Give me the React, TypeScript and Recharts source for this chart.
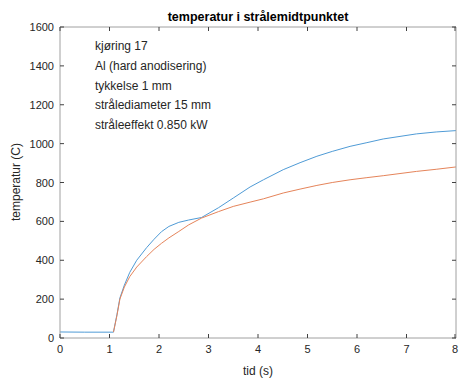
import React from "react";
import { LineChart, Line, XAxis, YAxis, ReferenceLine } from "recharts";

const timeS = [0, 0.5, 1.08, 1.15, 1.21, 1.3, 1.41, 1.55, 1.75, 1.9, 2.05, 2.2, 2.4, 2.6, 2.86, 3.2, 3.5, 3.84, 4.11, 4.51, 4.85, 5.19, 5.5, 5.86, 6.2, 6.53, 7.2, 7.6, 8];
const blueTemp = [31, 30, 30, 120, 206, 272, 338, 400, 465, 508, 547, 574, 595, 607, 620, 670, 720, 777, 814, 866, 902, 935, 960, 986, 1005, 1024, 1050, 1060, 1067];
const orangeTemp: (number | null)[] = [null, null, 30, 115, 200, 262, 316, 365, 419, 456, 487, 515, 548, 582, 617, 650, 677, 699, 716, 746, 766, 785, 800, 814, 825, 835, 857, 868, 880];

const xTicks = [0, 1, 2, 3, 4, 5, 6, 7, 8];
const yTicks = [0, 200, 400, 600, 800, 1000, 1200, 1400, 1600];
const notes = ["kjøring 17", "Al (hard anodisering)", "tykkelse 1 mm", "strålediameter 15 mm", "stråleeffekt 0.850 kW"];
const title = "temperatur i strålemidtpunktet";
const xLabel = "tid (s)";
const yLabel = "temperatur (C)";

const data = timeS.map((t, i) => ({ t, blue: blueTemp[i], orange: orangeTemp[i] }));

const W = 459, H = 379;
const M = { top: 27, right: 3, left: 0, bottom: 0 };
const Y_AXIS_W = 60, X_AXIS_H = 41;
const PLOT_TOP = M.top;
const PLOT_BOTTOM = H - M.bottom - X_AXIS_H;
const PLOT_LEFT = M.left + Y_AXIS_W;
const PLOT_RIGHT = W - M.right;
const TICK_LEN = 4;

const FONT = "'Liberation Sans', Arial, sans-serif";
const AX = "#a0a0a0";
const TICK = "#404040";
const TXT = "#262626";

const XTick = (props: any) => {
  const { x, payload } = props;
  return (
    <g>
      <line x1={x} x2={x} y1={PLOT_BOTTOM} y2={PLOT_BOTTOM - TICK_LEN} stroke={TICK} strokeWidth={1} />
      <line x1={x} x2={x} y1={PLOT_TOP} y2={PLOT_TOP + TICK_LEN} stroke={TICK} strokeWidth={1} />
      <text x={x} y={PLOT_BOTTOM + 15} textAnchor="middle" fontFamily={FONT} fontSize={11} fill={TXT}>
        {payload.value}
      </text>
    </g>
  );
};

const YTick = (props: any) => {
  const { y, payload } = props;
  return (
    <g>
      <line x1={PLOT_LEFT} x2={PLOT_LEFT + TICK_LEN} y1={y} y2={y} stroke={TICK} strokeWidth={1} />
      <line x1={PLOT_RIGHT} x2={PLOT_RIGHT - TICK_LEN} y1={y} y2={y} stroke={TICK} strokeWidth={1} />
      <text x={PLOT_LEFT - 6} y={y + 4} textAnchor="end" fontFamily={FONT} fontSize={11} fill={TXT}>
        {payload.value}
      </text>
    </g>
  );
};

export default function App() {
  return (
    <div style={{ position: "absolute", left: 0, top: 0, width: W, height: H, background: "#fff", fontFamily: FONT }}>
      <LineChart width={W} height={H} data={data} margin={M}>
        <XAxis
          dataKey="t"
          type="number"
          domain={[0, 8]}
          ticks={xTicks}
          height={X_AXIS_H}
          tickSize={0}
          tickMargin={0}
          axisLine={false}
          tickLine={false}
          tick={<XTick />}
          allowDataOverflow
        />
        <YAxis
          type="number"
          domain={[0, 1600]}
          ticks={yTicks}
          width={Y_AXIS_W}
          tickSize={0}
          tickMargin={0}
          axisLine={false}
          tickLine={false}
          tick={<YTick />}
          allowDataOverflow
        />
        <Line type="linear" dataKey="blue" stroke="#4f9bd6" strokeWidth={1} dot={false} isAnimationActive={false} connectNulls={false} />
        <Line type="linear" dataKey="orange" stroke="#e5845a" strokeWidth={1} dot={false} isAnimationActive={false} connectNulls={false} />
        <ReferenceLine x={0} stroke={AX} ifOverflow="visible" />
        <ReferenceLine x={8} stroke={AX} ifOverflow="visible" />
        <ReferenceLine y={0} stroke={AX} ifOverflow="visible" />
        <ReferenceLine y={1600} stroke={AX} ifOverflow="visible" />
      </LineChart>
      <svg width={W} height={H} style={{ position: "absolute", left: 0, top: 0, pointerEvents: "none" }}>
        <text x={258} y={21} textAnchor="middle" fontFamily={FONT} fontSize={12.5} fontWeight="bold" fill="#000">{title}</text>
        {notes.map((n, i) => (
          <text key={n} x={95} y={50 + i * 19.8} fontFamily={FONT} fontSize={12} fill={TXT}>{n}</text>
        ))}
        <text x={258} y={375} textAnchor="middle" fontFamily={FONT} fontSize={12} fill={TXT}>{xLabel}</text>
        <text x={0} y={0} transform="translate(20,182) rotate(-90)" textAnchor="middle" fontFamily={FONT} fontSize={12} fill={TXT}>{yLabel}</text>
      </svg>
    </div>
  );
}
